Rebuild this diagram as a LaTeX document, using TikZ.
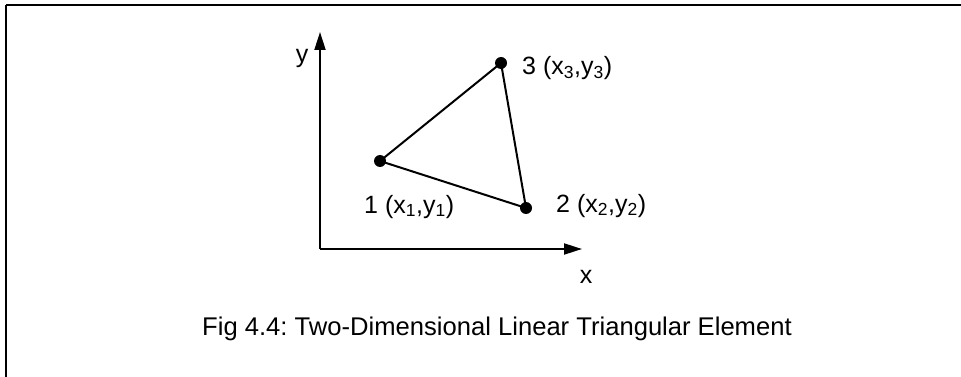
\documentclass[tikz,border=0pt]{standalone}
\usepackage{fontspec}
\setmainfont{Liberation Sans}
\usetikzlibrary{arrows.meta}
\frenchspacing
\begin{document}
\begin{tikzpicture}[x=1pt,y=-1pt,
  axis/.style={line width=2pt,-{Triangle[length=18pt,width=11pt]}},
  edge/.style={line width=2pt},
  dot/.style={circle,fill=black,inner sep=0pt,minimum size=12pt},
  lbl/.style={font=\fontsize{25}{30}\selectfont,inner sep=0pt},
  captext/.style={font=\fontsize{25.6}{30}\selectfont,inner sep=0pt}]
\useasboundingbox (0,0) rectangle (961,377);
\coordinate (tl) at (6,5);
\coordinate (tr) at (961,5);
\coordinate (bl) at (6,377);
\draw[line width=2pt] (tl) -- (tr);
\draw[line width=1.5pt] (tl) -- (bl);
\coordinate (o) at (320,249);
\coordinate (ytip) at (320,32);
\coordinate (xtip) at (582,249);
\draw[axis] (o) -- (ytip);
\draw[axis] (o) -- (xtip);
\node[lbl,anchor=base] (ylab) at (302,63) {y};
\node[lbl,anchor=base] (xlab) at (586,283) {x};
\node[dot] (n1) at (380,161) {};
\node[dot] (n2) at (526,208) {};
\node[dot] (n3) at (501,63) {};
\draw[edge] (n1.center) -- (n2.center) -- (n3.center) -- cycle;
\node[lbl,anchor=base west] (l1) at (364,213) {1 (x\textsubscript{1},y\textsubscript{1})};
\node[lbl,anchor=base west] (l2) at (556,212) {2 (x\textsubscript{2},y\textsubscript{2})};
\node[lbl,anchor=base west] (l3) at (522,75) {3 (x\textsubscript{3},y\textsubscript{3})};
\node[captext,anchor=base] (caption) at (497,335) {Fig 4.4: Two-Dimensional Linear Triangular Element};
\end{tikzpicture}
\end{document}
